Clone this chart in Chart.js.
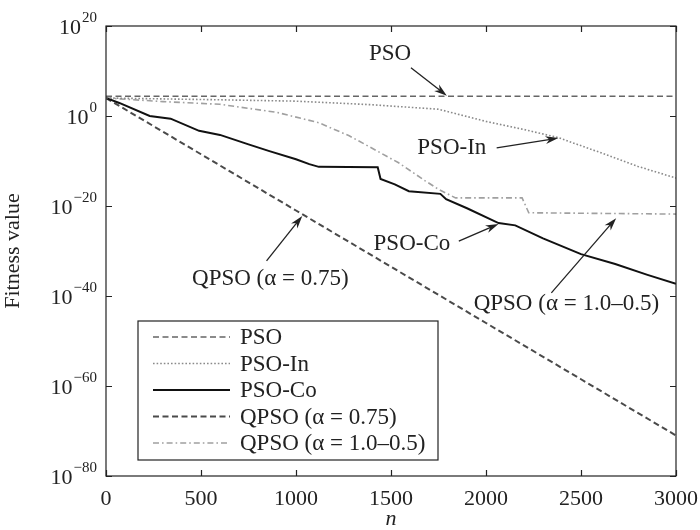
<!DOCTYPE html>
<html>
<head>
<meta charset="utf-8">
<script src="https://cdn.jsdelivr.net/npm/chart.js@4"></script>
<style>
  html, body { margin: 0; padding: 0; background: #fff; }
  #wrap { width: 700px; height: 530px; }
</style>
</head>
<body>
<div id="wrap"><canvas id="fitnessChart" width="700" height="530"></canvas></div>
<script>
// Données : n (itérations) et log10 de la fitness
const nPSO = [0, 3000];
const expPSO = [4.4, 4.4];

const nPSOIn = [0, 300, 600, 1000, 1400, 1750, 2000, 2200, 2380, 2600, 2800, 3000];
const expPSOIn = [4.0, 3.8, 3.6, 3.3, 2.5, 1.5, -1.2, -3.0, -4.8, -8.1, -11.2, -13.8];

const nPSOCo = [0, 70, 230, 340, 490, 600, 750, 860, 1000, 1070, 1120, 1430, 1445, 1520, 1594, 1760, 1790, 1900, 2066, 2154, 2300, 2500, 2680, 2850, 3000];
const expPSOCo = [4.0, 2.9, 0.0, -0.6, -3.3, -4.2, -6.3, -7.8, -9.6, -10.7, -11.3, -11.4, -14.0, -15.2, -16.7, -17.3, -18.5, -20.5, -23.8, -24.3, -27.2, -30.7, -32.9, -35.3, -37.3];

const nQPSO075 = [0, 500, 1000, 1500, 2000, 2500, 3000];
const expQPSO075 = [4.0, -8.5, -21.0, -33.5, -46.0, -58.5, -71.0];

const nQPSO105 = [0, 300, 600, 900, 1120, 1280, 1385, 1540, 1680, 1750, 1840, 2190, 2225, 3000];
const expQPSO105 = [4.0, 3.2, 2.6, 0.8, -1.5, -4.4, -6.8, -10.4, -14.4, -16.3, -18.2, -18.2, -21.5, -21.8];

const xTicks = [0, 500, 1000, 1500, 2000, 2500, 3000];
const yTickExps = [20, 0, -20, -40, -60, -80];

const FONT = "'Liberation Serif', 'Times New Roman', serif";

// Annotations : texte et flèche, en coordonnées des données (n, exposant)
const notes = [
    { text: "PSO", tx: 1495, te: 13.8, sx: 1605, se: 10.7, hx: 1794, he: 4.5 },
    { text: "PSO-In", tx: 1820, te: -7.1, sx: 2056, se: -7.1, hx: 2381, he: -4.9 },
    { text: "PSO-Co", tx: 1610, te: -28.4, sx: 1857, se: -27.8, hx: 2066, he: -24.0 },
    { text: "QPSO (α = 1.0–0.5)", tx: 2423, te: -41.8, sx: 2344, se: -39.3, hx: 2685, he: -22.7 },
    { text: "QPSO (α = 0.75)", tx: 865, te: -36.2, sx: 845, se: -32.2, hx: 1033, he: -22.2 }
];

function toPoints(ns, exps) {
    return ns.map((n, i) => ({ x: n, y: Math.pow(10, exps[i]) }));
}

function supText(v) {
    return String(v).replace('-', '\u2212');
}

function drawArrow(ctx, x1, y1, x2, y2) {
    const ang = Math.atan2(y2 - y1, x2 - x1);
    const len = 13, half = 4;
    ctx.beginPath();
    ctx.moveTo(x1, y1);
    ctx.lineTo(x2 - Math.cos(ang) * 8, y2 - Math.sin(ang) * 8);
    ctx.stroke();
    ctx.beginPath();
    ctx.moveTo(x2, y2);
    ctx.lineTo(x2 - len * Math.cos(ang) + half * Math.sin(ang), y2 - len * Math.sin(ang) - half * Math.cos(ang));
    ctx.lineTo(x2 - 0.7 * len * Math.cos(ang), y2 - 0.7 * len * Math.sin(ang));
    ctx.lineTo(x2 - len * Math.cos(ang) - half * Math.sin(ang), y2 - len * Math.sin(ang) + half * Math.cos(ang));
    ctx.closePath();
    ctx.fill();
}

// Cadre, graduations, étiquettes 10^k, annotations et légende
const decorPlugin = {
    id: 'decor',
    afterDraw(chart) {
        const ctx = chart.ctx;
        const area = chart.chartArea;
        const xs = chart.scales.x, ys = chart.scales.y;
        ctx.save();

        // cadre
        ctx.strokeStyle = '#222';
        ctx.lineWidth = 1.2;
        ctx.setLineDash([]);
        ctx.strokeRect(area.left, area.top, area.right - area.left, area.bottom - area.top);

        // graduations vers l'intérieur
        ctx.beginPath();
        xTicks.forEach(v => {
            const px = Math.round(xs.getPixelForValue(v)) + 0.5;
            ctx.moveTo(px, area.bottom); ctx.lineTo(px, area.bottom - 6);
            ctx.moveTo(px, area.top); ctx.lineTo(px, area.top + 6);
        });
        yTickExps.forEach(e => {
            const py = Math.round(ys.getPixelForValue(Math.pow(10, e))) + 0.5;
            ctx.moveTo(area.left, py); ctx.lineTo(area.left + 6, py);
            ctx.moveTo(area.right, py); ctx.lineTo(area.right - 6, py);
        });
        ctx.stroke();

        // étiquettes de l'axe y
        ctx.fillStyle = '#222';
        ctx.textAlign = 'right';
        ctx.textBaseline = 'alphabetic';
        yTickExps.forEach(e => {
            const py = ys.getPixelForValue(Math.pow(10, e));
            const right = area.left - 9;
            ctx.font = "15px " + FONT;
            const sup = supText(e);
            const w = ctx.measureText(sup).width;
            ctx.fillText(sup, right, py - 4);
            ctx.font = "22px " + FONT;
            ctx.fillText("10", right - w - 1, py + 8);
        });

        // annotations
        ctx.font = "23px " + FONT;
        ctx.textAlign = 'center';
        ctx.textBaseline = 'middle';
        ctx.lineWidth = 1.3;
        notes.forEach(a => {
            ctx.fillText(a.text, xs.getPixelForValue(a.tx), ys.getPixelForValue(Math.pow(10, a.te)));
            drawArrow(ctx,
                xs.getPixelForValue(a.sx), ys.getPixelForValue(Math.pow(10, a.se)),
                xs.getPixelForValue(a.hx), ys.getPixelForValue(Math.pow(10, a.he)));
        });

        // légende
        const bx = area.left + 32, by = area.bottom - 155, bw = 300, bh = 139;
        ctx.fillStyle = '#fff';
        ctx.fillRect(bx, by, bw, bh);
        ctx.strokeStyle = '#222';
        ctx.lineWidth = 1.2;
        ctx.strokeRect(bx, by, bw, bh);
        ctx.textAlign = 'left';
        ctx.textBaseline = 'middle';
        chart.data.datasets.forEach((ds, i) => {
            const ly = by + 16 + i * 26.5;
            ctx.strokeStyle = ds.borderColor;
            ctx.lineWidth = ds.borderWidth;
            ctx.setLineDash(ds.borderDash || []);
            ctx.beginPath();
            ctx.moveTo(bx + 15, ly);
            ctx.lineTo(bx + 92, ly);
            ctx.stroke();
            ctx.setLineDash([]);
            ctx.fillStyle = '#222';
            ctx.fillText(ds.label, bx + 102, ly + 1);
        });
        ctx.restore();
    }
};

function buildChart() {
    const ctx = document.getElementById('fitnessChart').getContext('2d');
    new Chart(ctx, {
        type: 'line',
        data: {
            datasets: [
                { label: 'PSO', data: toPoints(nPSO, expPSO), borderColor: '#666', borderWidth: 1.6, borderDash: [6, 3.5] },
                { label: 'PSO-In', data: toPoints(nPSOIn, expPSOIn), borderColor: '#8a8a8a', borderWidth: 1.6, borderDash: [1.6, 2] },
                { label: 'PSO-Co', data: toPoints(nPSOCo, expPSOCo), borderColor: '#111', borderWidth: 2 },
                { label: 'QPSO (α = 0.75)', data: toPoints(nQPSO075, expQPSO075), borderColor: '#4a4a4a', borderWidth: 2, borderDash: [6, 3.5] },
                { label: 'QPSO (α = 1.0–0.5)', data: toPoints(nQPSO105, expQPSO105), borderColor: '#a0a0a0', borderWidth: 1.6, borderDash: [6, 3, 1.6, 3] }
            ]
        },
        options: {
            responsive: false,
            animation: false,
            layout: { padding: { top: 26, right: 22, left: 0, bottom: 0 } },
            elements: { point: { radius: 0 }, line: { tension: 0 } },
            plugins: { legend: { display: false }, tooltip: { enabled: false } },
            scales: {
                x: {
                    type: 'linear',
                    min: 0,
                    max: 3000,
                    afterFit: scale => { scale.height = 54; },
                    afterBuildTicks: scale => { scale.ticks = xTicks.map(v => ({ value: v })); },
                    grid: { display: false },
                    border: { display: false },
                    ticks: {
                        color: '#222',
                        font: { family: FONT, size: 22 },
                        padding: 2,
                        maxRotation: 0,
                        callback: v => String(v)
                    },
                    title: { display: true, text: 'n', color: '#222', font: { family: FONT, size: 22, style: 'italic' }, padding: { top: 0, bottom: -2 } }
                },
                y: {
                    type: 'logarithmic',
                    min: 1e-80,
                    max: 1e20,
                    afterFit: scale => { scale.width = 106; },
                    afterBuildTicks: scale => { scale.ticks = yTickExps.map(e => ({ value: Math.pow(10, e) })); },
                    grid: { display: false },
                    border: { display: false },
                    ticks: { display: false },
                    title: { display: true, text: 'Fitness value', color: '#222', font: { family: FONT, size: 22 }, padding: { top: 0, bottom: 0 } }
                }
            }
        },
        plugins: [decorPlugin]
    });
}

// Attendre la police avant de dessiner
document.fonts.load("22px 'Liberation Serif'")
    .then(() => document.fonts.load("italic 22px 'Liberation Serif'"))
    .then(buildChart)
    .catch(buildChart);
</script>
</body>
</html>
